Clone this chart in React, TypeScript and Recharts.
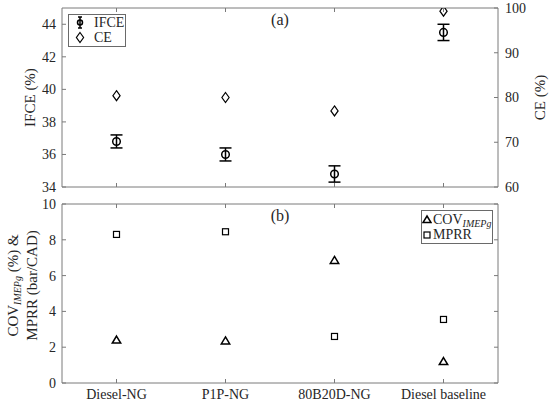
import React from "react";
import {
  ComposedChart,
  ErrorBar,
  Scatter,
  XAxis,
  YAxis,
} from "recharts";

const categories = ["Diesel-NG", "P1P-NG", "80B20D-NG", "Diesel baseline"];
const ifce = [36.8, 36.0, 34.8, 43.5];
const ifceErr = [0.4, 0.4, 0.5, 0.5];
const ce = [80.4, 80.0, 77.0, 99.3];
const cov = [2.4, 2.35, 6.85, 1.2];
const mprr = [8.3, 8.45, 2.6, 3.55];

const ifceTicks = [34, 36, 38, 40, 42, 44];
const ceTicks = [60, 70, 80, 90, 100];
const bottomTicks = [0, 2, 4, 6, 8, 10];

const topData = categories.map((name, i) => ({
  name,
  ifce: ifce[i],
  ifceErr: ifceErr[i],
  ce: ce[i],
}));
const bottomData = categories.map((name, i) => ({
  name,
  cov: cov[i],
  mprr: mprr[i],
}));

const FONT = "'Liberation Serif', 'Times New Roman', serif";
const AXIS = "#7a7a7a";
const TEXT = "#262626";
const TICK = 4;
const X_PAD = { left: 54.5, right: 54.5 };
const txt: React.CSSProperties = { fontFamily: FONT, fontSize: 14, fill: TEXT };

function BottomTick(props: any) {
  const { x, y, payload, showLabel } = props;
  return (
    <g>
      <line x1={x} y1={y} x2={x} y2={y - TICK} stroke={AXIS} />
      {showLabel && (
        <text x={x} y={y + 16} textAnchor="middle" style={txt}>
          {payload.value}
        </text>
      )}
    </g>
  );
}

function TopTick(props: any) {
  const { x, y } = props;
  return <line x1={x} y1={y} x2={x} y2={y + TICK} stroke={AXIS} />;
}

function LeftTick(props: any) {
  const { x, y, payload } = props;
  return (
    <g>
      <line x1={x} y1={y} x2={x + TICK} y2={y} stroke={AXIS} />
      <text x={x - 6} y={y} dy="0.35em" textAnchor="end" style={txt}>
        {payload.value}
      </text>
    </g>
  );
}

function RightTick(props: any) {
  const { x, y, payload, showLabel } = props;
  return (
    <g>
      <line x1={x} y1={y} x2={x - TICK} y2={y} stroke={AXIS} />
      {showLabel && (
        <text x={x + 7} y={y} dy="0.35em" textAnchor="start" style={txt}>
          {payload.value}
        </text>
      )}
    </g>
  );
}

const CircleDot = (p: any) => (
  <circle cx={p.cx} cy={p.cy} r={3.8} fill="none" stroke="#000" strokeWidth={1.5} />
);
const DiamondDot = (p: any) => (
  <path
    d={`M${p.cx},${p.cy - 5} L${p.cx + 3.6},${p.cy} L${p.cx},${p.cy + 5} L${p.cx - 3.6},${p.cy} Z`}
    fill="none"
    stroke="#000"
    strokeWidth={1.2}
  />
);
const TriangleDot = (p: any) => (
  <path
    d={`M${p.cx},${p.cy - 4} L${p.cx + 4.2},${p.cy + 3} L${p.cx - 4.2},${p.cy + 3} Z`}
    fill="none"
    stroke="#000"
    strokeWidth={1.5}
  />
);
const SquareDot = (p: any) => (
  <rect x={p.cx - 3} y={p.cy - 3} width={6} height={6} fill="none" stroke="#000" strokeWidth={1.2} />
);

const legendBox: React.CSSProperties = {
  position: "absolute",
  outline: "1px solid #6a6a6a",
  background: "#fff",
  fontFamily: FONT,
  fontSize: 14,
  lineHeight: "15px",
  color: TEXT,
  boxSizing: "border-box",
  whiteSpace: "nowrap",
};

const row: React.CSSProperties = { display: "flex", alignItems: "center", height: 15 };

function TopLegend() {
  return (
    <div style={{ ...legendBox, left: 69, top: 15, width: 56, height: 31, padding: "0 0 0 4px" }}>
      <div style={row}>
        <svg width={14} height={15}>
          <line x1={7} y1={2} x2={7} y2={13} stroke="#000" strokeWidth={1.5} />
          <line x1={5} y1={2} x2={9} y2={2} stroke="#000" strokeWidth={1.5} />
          <line x1={5} y1={13} x2={9} y2={13} stroke="#000" strokeWidth={1.5} />
          <circle cx={7} cy={7.5} r={2.5} fill="none" stroke="#000" strokeWidth={1.5} />
        </svg>
        <span style={{ marginLeft: 7 }}>IFCE</span>
      </div>
      <div style={row}>
        <svg width={14} height={15}>
          <path d="M7,2.5 L10.6,7.5 L7,12.5 L3.4,7.5 Z" fill="none" stroke="#000" strokeWidth={1.2} />
        </svg>
        <span style={{ marginLeft: 7 }}>CE</span>
      </div>
    </div>
  );
}

function BottomLegend() {
  return (
    <div style={{ ...legendBox, left: 422, top: 211, width: 70, height: 32, padding: "1px 0 0 0" }}>
      <div style={row}>
        <svg width={10} height={15}>
          <path d="M5,4 L9,10.5 L1,10.5 Z" fill="none" stroke="#000" strokeWidth={1.5} />
        </svg>
        <span style={{ marginLeft: 1 }}>
          COV
          <i style={{ fontSize: 10, position: "relative", top: 3 }}>IMEPg</i>
        </span>
      </div>
      <div style={row}>
        <svg width={10} height={15}>
          <rect x={2} y={5} width={6} height={6} fill="none" stroke="#000" strokeWidth={1.2} />
        </svg>
        <span style={{ marginLeft: 1 }}>MPRR</span>
      </div>
    </div>
  );
}

const panelLabel = (text: string) => (p: any) => (
  <text
    x={p.viewBox.x + p.viewBox.width / 2}
    y={p.viewBox.y + p.viewBox.height + 17}
    textAnchor="middle"
    style={{ ...txt, fontSize: 16 }}
  >
    {text}
  </text>
);

export default function App() {
  return (
    <div style={{ position: "absolute", left: 0, top: 0, width: 550, height: 404, background: "#fff" }}>
      <div style={{ position: "absolute", left: 0, top: 0 }}>
        <ComposedChart width={550} height={195} data={topData} margin={{ top: 7, right: 0, bottom: 0, left: 0 }}>
          <XAxis
            dataKey="name"
            height={8}
            padding={X_PAD}
            stroke={AXIS}
            tickSize={0}
            tickMargin={0}
            tick={<BottomTick showLabel={false} />}
            interval={0}
          />
          <XAxis
            xAxisId="top"
            dataKey="name"
            orientation="top"
            height={1}
            padding={X_PAD}
            stroke={AXIS}
            tickSize={0}
            tickMargin={0}
            tick={<TopTick />}
            interval={0}
            label={{ content: panelLabel("(a)") }}
          />
          <YAxis
            yAxisId="left"
            width={62}
            domain={[34, 45]}
            ticks={ifceTicks}
            allowDataOverflow
            stroke={AXIS}
            tickSize={0}
            tickMargin={0}
            tick={<LeftTick />}
            interval={0}
            label={{
              content: (p: any) => (
                <text
                  transform={`translate(${p.viewBox.x + 30},${p.viewBox.y + p.viewBox.height / 2}) rotate(-90)`}
                  textAnchor="middle"
                  dy="0.35em"
                  style={{ ...txt, fontSize: 15 }}
                >
                  IFCE (%)
                </text>
              ),
            }}
          />
          <YAxis
            yAxisId="right"
            orientation="right"
            width={52}
            domain={[60, 100]}
            ticks={ceTicks}
            allowDataOverflow
            stroke={AXIS}
            tickSize={0}
            tickMargin={0}
            tick={<RightTick showLabel />}
            interval={0}
            label={{
              content: (p: any) => (
                <text
                  transform={`translate(${p.viewBox.x + 42},${p.viewBox.y + p.viewBox.height / 2}) rotate(-90)`}
                  textAnchor="middle"
                  dy="0.35em"
                  style={{ ...txt, fontSize: 15 }}
                >
                  CE (%)
                </text>
              ),
            }}
          />
          <Scatter yAxisId="left" dataKey="ifce" name="IFCE" shape={CircleDot} isAnimationActive={false}>
            <ErrorBar dataKey="ifceErr" direction="y" width={6} stroke="#000" strokeWidth={1.5} isAnimationActive={false} />
          </Scatter>
          <Scatter xAxisId="top" yAxisId="right" dataKey="ce" name="CE" shape={DiamondDot} isAnimationActive={false} />
        </ComposedChart>
      </div>
      <div style={{ position: "absolute", left: 0, top: 195 }}>
        <ComposedChart width={550} height={209} data={bottomData} margin={{ top: 8, right: 0, bottom: 0, left: 0 }}>
          <XAxis
            dataKey="name"
            height={21}
            padding={X_PAD}
            stroke={AXIS}
            tickSize={0}
            tickMargin={0}
            tick={<BottomTick showLabel />}
            interval={0}
          />
          <XAxis
            xAxisId="top"
            dataKey="name"
            orientation="top"
            height={1}
            padding={X_PAD}
            stroke={AXIS}
            tickSize={0}
            tickMargin={0}
            tick={<TopTick />}
            interval={0}
            label={{ content: panelLabel("(b)") }}
          />
          <YAxis
            yAxisId="left"
            width={62}
            domain={[0, 10]}
            ticks={bottomTicks}
            allowDataOverflow
            stroke={AXIS}
            tickSize={0}
            tickMargin={0}
            tick={<LeftTick />}
            interval={0}
            label={{
              content: (p: any) => {
                const cy = p.viewBox.y + p.viewBox.height / 2 - 8;
                return (
                  <g>
                    <text
                      transform={`translate(${p.viewBox.x + 13},${cy}) rotate(-90)`}
                      textAnchor="middle"
                      dy="0.35em"
                      style={{ ...txt, fontSize: 15 }}
                    >
                      COV
                      <tspan style={{ fontSize: 10, fontStyle: "italic" }} dy={3}>IMEPg</tspan>
                      <tspan dy={-3}> (%) &amp;</tspan>
                    </text>
                    <text
                      transform={`translate(${p.viewBox.x + 32},${cy}) rotate(-90)`}
                      textAnchor="middle"
                      dy="0.35em"
                      style={{ ...txt, fontSize: 15 }}
                    >
                      MPRR (bar/CAD)
                    </text>
                  </g>
                );
              },
            }}
          />
          <YAxis
            yAxisId="right"
            orientation="right"
            width={52}
            domain={[0, 10]}
            ticks={bottomTicks}
            allowDataOverflow
            stroke={AXIS}
            tickSize={0}
            tickMargin={0}
            tick={<RightTick showLabel={false} />}
            interval={0}
          />
          <Scatter yAxisId="left" dataKey="cov" name="COV" shape={TriangleDot} isAnimationActive={false} />
          <Scatter xAxisId="top" yAxisId="left" dataKey="mprr" name="MPRR" shape={SquareDot} isAnimationActive={false} />
        </ComposedChart>
      </div>
      <TopLegend />
      <BottomLegend />
    </div>
  );
}
